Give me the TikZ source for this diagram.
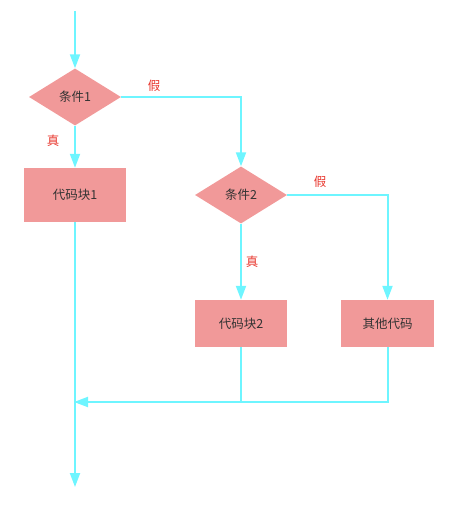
\documentclass[tikz,border=0pt]{standalone}
\usepackage{fontspec}
\setmainfont{Noto Sans CJK SC}
\usetikzlibrary{shapes.geometric,arrows.meta}
\definecolor{boxfill}{HTML}{F19999}
\definecolor{flow}{HTML}{6EF5FF}
\definecolor{lbl}{HTML}{E8372E}
\definecolor{txt}{HTML}{333333}
\tikzset{
  decision/.style={diamond, fill=boxfill, minimum width=92pt, minimum height=57pt, inner sep=0pt, text=txt, font=\fontsize{12.5pt}{14pt}\selectfont},
  process/.style={rectangle, fill=boxfill, inner sep=0pt, text=txt, font=\fontsize{12.5pt}{14pt}\selectfont},
  conn/.style={draw=flow, line width=2pt},
  arr/.style={conn, -{Triangle[width=10pt,length=14pt]}},
  tag/.style={text=lbl, font=\fontsize{12.5pt}{14pt}\selectfont, inner sep=0pt}
}
\begin{document}
\begin{tikzpicture}[x=1pt,y=-1pt]
\useasboundingbox (0,0) rectangle (466,505);
\coordinate (start) at (75,11);
\coordinate (finish) at (75,487);
\coordinate (join) at (74,402);
\node[decision] (d1) at (75,97) {条件1};
\node[process, minimum width=102pt, minimum height=54pt] (b1) at (75,195) {代码块1};
\node[decision] (d2) at (241,195) {条件2};
\node[process, minimum width=92pt, minimum height=47pt] (b2) at (241,323.5) {代码块2};
\node[process, minimum width=93pt, minimum height=47pt] (b3) at (387.5,323.5) {其他代码};
\node[tag] (f1) at (154,86) {假};
\node[tag] (t1) at (53,141) {真};
\node[tag] (f2) at (320,182) {假};
\node[tag] (t2) at (252,262) {真};
\draw[arr] (start) -- (d1.north);
\draw[arr] (d1.south) -- (b1.north);
\draw[arr] (d1.east) -| (d2.north);
\draw[arr] (d2.south) -- (b2.north);
\draw[arr] (d2.east) -| (b3.north);
\draw[arr] (b1.south) -- (finish);
\draw[conn] (b2.south) -- (b2.south |- join);
\draw[arr] (b3.south) |- (join);
\end{tikzpicture}
\end{document}
